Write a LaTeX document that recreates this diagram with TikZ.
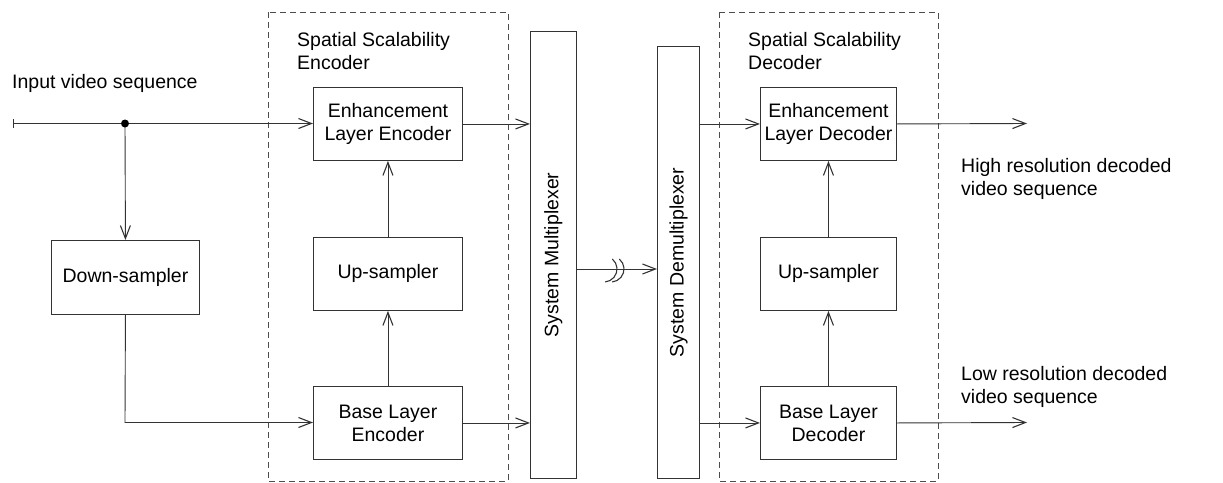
\documentclass[tikz,border=0pt]{standalone}
\usepackage{fontspec}
\setmainfont{Liberation Sans}
\usetikzlibrary{arrows.meta,calc}
\begin{document}
\begin{tikzpicture}[x=1pt,y=-1pt,
  every node/.style={font=\fontsize{19.5}{23}\selectfont, inner sep=0pt},
  blk/.style={draw=black!80, line width=0.9pt, align=center, anchor=north west},
  grp/.style={draw=black!70, line width=0.9pt, dash pattern=on 6pt off 4pt},
  lbl/.style={align=left, anchor=west},
  arr/.style={draw=black!80, line width=0.9pt, -{Straight Barb[length=13pt,width=10pt,line width=1.1pt]}},
  ln/.style={draw=black!80, line width=0.9pt}]
\useasboundingbox (0,0) rectangle (1223,482);

% group frames
\draw[grp] (268,12) rectangle (508,481);
\draw[grp] (719,12) rectangle (938,481);

% titles / labels
\node[lbl] (inlbl) at (12,83) {Input video sequence};
\node[lbl] (enct) at (297,51.5) {Spatial Scalability\\Encoder};
\node[lbl] (dect) at (748,51.5) {Spatial Scalability\\Decoder};
\node[lbl] (hilbl) at (961,178.5) {High resolution decoded\\video sequence};
\node[lbl] (lolbl) at (961,387) {Low resolution decoded\\video sequence};

% blocks
\node[blk, minimum width=148pt, minimum height=74pt] (down) at (51,240) {Down-sampler};
\node[blk, minimum width=149pt, minimum height=73pt] (ele) at (313,87) {Enhancement\\Layer Encoder};
\node[blk, minimum width=149pt, minimum height=73pt] (upe) at (313,237) {Up-sampler};
\node[blk, minimum width=149pt, minimum height=73pt] (ble) at (313,386) {Base Layer\\Encoder};
\node[blk, minimum width=46pt, minimum height=447pt] (mux) at (530,31) {};
\node[rotate=90] (muxt) at (mux.center) {System Multiplexer};
\node[blk, minimum width=42pt, minimum height=432pt] (demux) at (657,46) {};
\node[rotate=90] (demuxt) at (demux.center) {System Demultiplexer};
\node[blk, minimum width=136pt, minimum height=73pt] (eld) at (760,87) {Enhancement\\Layer Decoder};
\node[blk, minimum width=136pt, minimum height=73pt] (upd) at (760,237) {Up-sampler};
\node[blk, minimum width=136pt, minimum height=73pt] (bld) at (760,386) {Base Layer\\Decoder};

% coordinates
\coordinate (start) at (13,123.5);
\coordinate (dot) at (125,123.5);
\coordinate (corner) at (125,422.5);
\coordinate (jmp) at (604,269);
\coordinate (jmpb) at (611,269);
\coordinate (hiout) at (1027,123.5);
\coordinate (loout) at (1027,422.5);

% input
\draw[ln, {Bar[width=9pt,line width=1.1pt]}-] (start) -- (dot);
\draw[arr] (dot) -- (ele.west |- dot);
\draw[arr] (dot) -- (down.north);
\fill[black] (dot) circle (4pt);
\draw[arr] (down.south) -- (corner) -- (ble.west |- corner);

% encoder internal
\draw[arr] (ble.north) -- (upe.south);
\draw[arr] (upe.north) -- (ele.south);
\draw[arr] (ele.east) -- (mux.west |- ele.east);
\draw[arr] (ble.east) -- (mux.west |- ble.east);

% channel
\draw[arr] (mux.east |- jmp) -- (demux.west |- jmp);
\draw[ln, line width=1.1pt] (jmp) ++(50:13pt) arc[start angle=50, end angle=-85, radius=13pt];
\draw[ln, line width=1.1pt] (jmpb) ++(50:13pt) arc[start angle=50, end angle=-85, radius=13pt];

% decoder
\draw[arr] (demux.east |- eld.west) -- (eld.west);
\draw[arr] (demux.east |- bld.west) -- (bld.west);
\draw[arr] (bld.north) -- (upd.south);
\draw[arr] (upd.north) -- (eld.south);
\draw[arr] (eld.east) -- (hiout);
\draw[arr] (bld.east) -- (loout);
\end{tikzpicture}
\end{document}
